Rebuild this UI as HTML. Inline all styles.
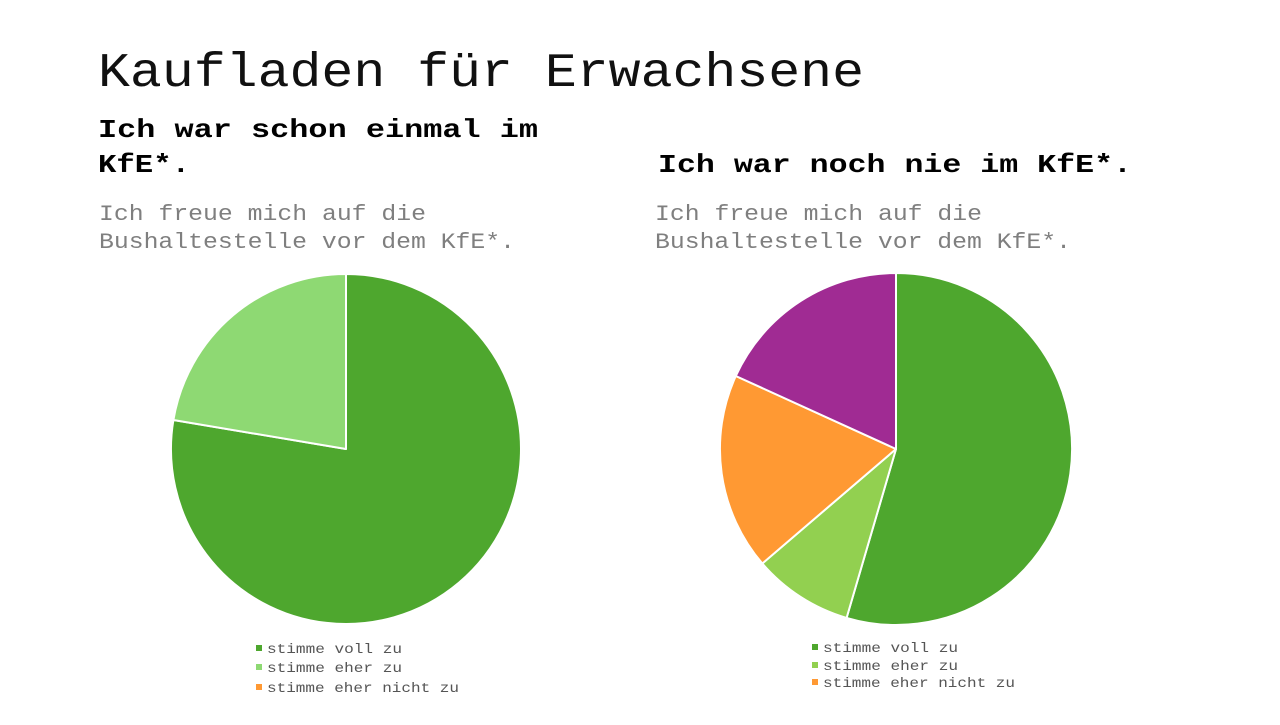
<!DOCTYPE html>
<html><head><meta charset="utf-8"><style>
body{margin:0;width:1280px;height:720px;background:#fff;overflow:hidden;font-family:"Liberation Mono",monospace;}
</style></head><body>
<svg width="1280" height="720" xmlns="http://www.w3.org/2000/svg" font-family="Liberation Mono, monospace">
<text x="98" y="86" font-size="48" fill="#111" textLength="766" lengthAdjust="spacingAndGlyphs">Kaufladen für Erwachsene</text>
<text x="98" y="137" font-size="26" font-weight="bold" fill="#000" textLength="440" lengthAdjust="spacingAndGlyphs">Ich war schon einmal im</text>
<text x="98" y="172" font-size="26" font-weight="bold" fill="#000" textLength="92" lengthAdjust="spacingAndGlyphs">KfE*.</text>
<text x="658" y="172" font-size="26" font-weight="bold" fill="#000" textLength="474" lengthAdjust="spacingAndGlyphs">Ich war noch nie im KfE*.</text>
<text x="99" y="220" font-size="22" fill="#7f7f7f" textLength="327" lengthAdjust="spacingAndGlyphs">Ich freue mich auf die</text>
<text x="99" y="248" font-size="22" fill="#7f7f7f" textLength="416" lengthAdjust="spacingAndGlyphs">Bushaltestelle vor dem KfE*.</text>
<text x="655" y="220" font-size="22" fill="#7f7f7f" textLength="327" lengthAdjust="spacingAndGlyphs">Ich freue mich auf die</text>
<text x="655" y="248" font-size="22" fill="#7f7f7f" textLength="416" lengthAdjust="spacingAndGlyphs">Bushaltestelle vor dem KfE*.</text>
<g stroke="#fff" stroke-width="2" stroke-linejoin="round">
<path d="M346,449 L346,274 A175,175 0 1 1 173.4,420 Z" fill="#4ea72e"/>
<path d="M346,449 L173.4,420 A175,175 0 0 1 346,274 Z" fill="#8ed973"/>
<path d="M896,449 L896,273 A176,176 0 1 1 846.6,617.9 Z" fill="#4ea72e"/>
<path d="M896,449 L846.6,617.9 A176,176 0 0 1 762.3,563.5 Z" fill="#92d050"/>
<path d="M896,449 L762.3,563.5 A176,176 0 0 1 735.8,376 Z" fill="#ff9933"/>
<path d="M896,449 L735.8,376 A176,176 0 0 1 896,273 Z" fill="#a02b93"/>
</g>
<g font-size="14" fill="#555">
<rect x="256" y="645" width="6" height="6" fill="#4ea72e"/><text x="267" y="653" textLength="135" lengthAdjust="spacingAndGlyphs">stimme voll zu</text>
<rect x="256" y="664" width="6" height="6" fill="#8ed973"/><text x="267" y="672" textLength="135" lengthAdjust="spacingAndGlyphs">stimme eher zu</text>
<rect x="256" y="684" width="6" height="6" fill="#ff9933"/><text x="267" y="692" textLength="192" lengthAdjust="spacingAndGlyphs">stimme eher nicht zu</text>
<rect x="812" y="644" width="6" height="6" fill="#4ea72e"/><text x="823" y="652" textLength="135" lengthAdjust="spacingAndGlyphs">stimme voll zu</text>
<rect x="812" y="662" width="6" height="6" fill="#92d050"/><text x="823" y="670" textLength="135" lengthAdjust="spacingAndGlyphs">stimme eher zu</text>
<rect x="812" y="679" width="6" height="6" fill="#ff9933"/><text x="823" y="687" textLength="192" lengthAdjust="spacingAndGlyphs">stimme eher nicht zu</text>
</g>
</svg>
</body></html>
